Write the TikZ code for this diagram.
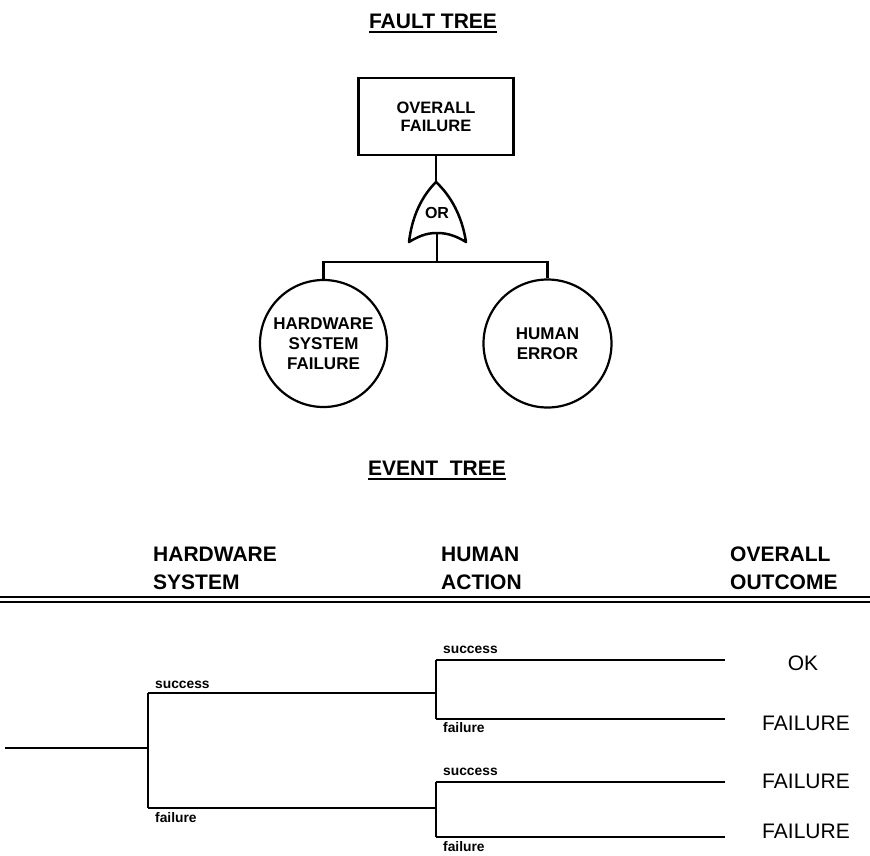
\documentclass[tikz,border=0pt]{standalone}
\usepackage{fontspec}
\setmainfont{Liberation Sans}
\begin{document}
\begin{tikzpicture}[x=1pt,y=-1pt,
  ln/.style={line width=2.5pt},
  thin ln/.style={line width=1.6pt},
  title/.style={font=\bfseries\fontsize{21}{25}\selectfont, inner sep=0pt, anchor=base},
  hdr/.style={font=\bfseries\fontsize{21}{28}\selectfont, inner sep=0pt, align=left, anchor=west},
  boxtxt/.style={font=\bfseries\fontsize{16.5}{18}\selectfont, align=center},
  circtxt/.style={circle, draw, line width=2.2pt, inner sep=0pt, align=center,
                  font=\bfseries\fontsize{17}{20}\selectfont},
  lbl/.style={font=\bfseries\fontsize{13.8}{15}\selectfont, inner sep=0pt, anchor=base west},
  outc/.style={font=\fontsize{21}{25}\selectfont, inner sep=0pt, anchor=base}
]
\useasboundingbox (0,0) rectangle (870,855);

% ---------------- FAULT TREE ----------------
\node[title] (ft) at (433,28) {FAULT TREE};
\draw[line width=2pt] ([yshift=-4pt]ft.base west) -- ([yshift=-4pt]ft.base east);

\node[draw, ln, boxtxt, minimum width=155pt, minimum height=77pt, inner sep=0pt] (box) at (436,116.5) {OVERALL\\FAILURE};

% OR gate
\coordinate (gtop) at (436,182);
\coordinate (gbl) at (409,242);
\coordinate (gbr) at (466,242);
\coordinate (gbot) at (437,233);
\draw[ln, line join=round] (gtop) .. controls (422,196) and (412,216) .. (gbl)
   .. controls (422,234) and (430,233) .. (gbot)
   .. controls (444,233) and (453,234) .. (gbr)
   .. controls (462,216) and (451,196) .. (gtop) -- cycle;
\node[font=\bfseries\fontsize{16}{18}\selectfont, inner sep=0pt, anchor=base] (or) at (437,218) {OR};

\draw[ln] (box.south) -- (gtop);

\node[circtxt, minimum size=127pt] (c1) at (323.5,343.5) {HARDWARE\\SYSTEM\\FAILURE};
\node[circtxt, minimum size=128pt] (c2) at (547.5,343.5) {HUMAN\\ERROR};

\coordinate (bar) at (437,262);
\draw[ln] (gbot) -- (bar);
\draw[ln] (c1.north) |- (bar) -| (c2.north);

% ---------------- EVENT TREE ----------------
\node[title] (et) at (437,475) {EVENT\ \ TREE};
\draw[line width=2pt] ([yshift=-4pt]et.base west) -- ([yshift=-4pt]et.base east);

\node[hdr] (h1) at (153,568.5) {HARDWARE\\SYSTEM};
\node[hdr] (h2) at (441,568.5) {HUMAN\\ACTION};
\node[hdr] (h3) at (730,568.5) {OVERALL\\OUTCOME};

\coordinate (dl1) at (0,597); \coordinate (dr1) at (870,597);
\coordinate (dl2) at (0,602); \coordinate (dr2) at (870,602);
\draw[thin ln] (dl1) -- (dr1);
\draw[thin ln] (dl2) -- (dr2);

% tree skeleton
\coordinate (start) at (5,748);
\coordinate (n1) at (148,748);
\coordinate (hs) at (148,693);
\coordinate (hf) at (148,808);
\coordinate (a1) at (436,693);
\coordinate (a2) at (436,808);
\coordinate (a1s) at (436,660);
\coordinate (a1f) at (436,719);
\coordinate (a2s) at (436,782);
\coordinate (a2f) at (436,837);
\coordinate (e1) at (725,660);
\coordinate (e2) at (725,719);
\coordinate (e3) at (725,782);
\coordinate (e4) at (725,837);

\draw[ln] (start) -- (n1);
\draw[ln] (hs) -- (hf);
\draw[ln] (hs) -- (a1);
\draw[ln] (hf) -- (a2);
\draw[ln] (a1s) -- (a1f);
\draw[ln] (a2s) -- (a2f);
\draw[ln] (a1s) -- (e1);
\draw[ln] (a1f) -- (e2);
\draw[ln] (a2s) -- (e3);
\draw[ln] (a2f) -- (e4);

% branch labels
\node[lbl] (l1) at (155,688) {success};
\node[lbl] (l2) at (155,822) {failure};
\node[lbl] (l3) at (443,653) {success};
\node[lbl] (l4) at (443,732) {failure};
\node[lbl] (l5) at (443,775) {success};
\node[lbl] (l6) at (443,851) {failure};

% outcomes
\node[outc] (o1) at (803,670) {OK};
\node[outc] (o2) at (806,730) {FAILURE};
\node[outc] (o3) at (806,788) {FAILURE};
\node[outc] (o4) at (806,838) {FAILURE};
\end{tikzpicture}
\end{document}
